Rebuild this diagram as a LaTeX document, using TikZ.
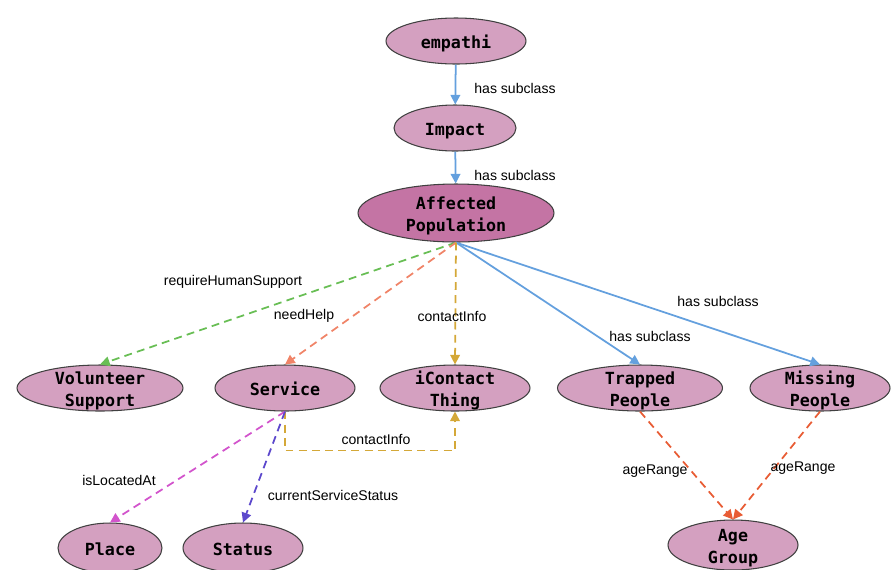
\documentclass[tikz,border=0pt]{standalone}
\usepackage{fontspec}
\setmainfont{Liberation Sans}
\newfontfamily\classfont{DejaVu Sans Mono}
\usetikzlibrary{shapes.geometric,arrows.meta}

\definecolor{classfill}{RGB}{212,160,192}
\definecolor{mainfill}{RGB}{196,116,164}
\definecolor{subblue}{RGB}{100,160,222}
\definecolor{relgreen}{RGB}{104,190,84}
\definecolor{relsalmon}{RGB}{240,132,104}
\definecolor{relgold}{RGB}{212,168,56}
\definecolor{relmagenta}{RGB}{210,84,204}
\definecolor{relpurple}{RGB}{92,72,204}
\definecolor{relorange}{RGB}{232,92,52}

\newcommand{\cls}[1]{\smash{\raisebox{-3.8pt}{\begin{tabular}{@{}c@{}}#1\end{tabular}}}}

\tikzstyle{class}=[shape=ellipse,draw=black!75,line width=0.6pt,fill=classfill,inner sep=0pt,
    minimum width=2.8cm,minimum height=0.92cm,font=\classfont\bfseries\fontsize{9.5}{12.5}\selectfont]
\tikzstyle{mainclass}=[class,fill=mainfill,minimum width=3.92cm,minimum height=1.16cm]
\tikzstyle{sub}=[draw=subblue,line width=1pt,-{Triangle[length=5.5pt,width=5.5pt]}]
\tikzstyle{rel}=[line width=1pt,dash pattern=on 4.5pt off 3pt,-{Triangle[length=5.5pt,width=5.5pt]}]
\tikzstyle{lbl}=[font=\fontsize{8}{9}\selectfont,inner sep=1pt]

\begin{document}
\begin{tikzpicture}[x=0.02cm,y=-0.02cm]
        \useasboundingbox (0,0) rectangle (891,569);
        % classes
        \node[class] (emp) at (456,41) {\cls{empathi}};
        \node[class,minimum width=2.44cm] (imp) at (455,128) {\cls{Impact}};
        \node[mainclass] (ap) at (456,213) {\cls{Affected\\Population}};
        \node[class,minimum width=3.32cm] (vs) at (100,388) {\cls{Volunteer\\Support}};
        \node[class] (sv) at (285,388) {\cls{Service}};
        \node[class,minimum width=3cm] (ic) at (455,388) {\cls{iContact\\Thing}};
        \node[class,minimum width=3.3cm] (tp) at (640,388) {\cls{Trapped\\People}};
        \node[class] (mp) at (820,388) {\cls{Missing\\People}};
        \node[class,minimum width=2.08cm,minimum height=1cm] (pl) at (110,548) {\cls{Place}};
        \node[class,minimum width=2.4cm,minimum height=1cm] (st) at (243,548) {\cls{Status}};
        \node[class,minimum width=2.6cm,minimum height=1cm] (ag) at (733,545) {\cls{Age\\Group}};

        % subclass links
        \draw[sub] (emp) -- (imp) node[lbl] (l1) at (515,88) {has subclass};
        \draw[sub] (imp) -- (ap) node[lbl] (l2) at (515,175) {has subclass};
        \draw[sub] (ap.south) -- (tp.north) node[lbl] (l3) at (650,336) {has subclass};
        \draw[sub] (ap.south) -- (mp.north) node[lbl] (l4) at (718,301) {has subclass};

        % properties
        \draw[rel,draw=relgreen] (ap.south) -- (vs.north)
            node[lbl] (l5) at (233,282) {requireHumanSupport};
        \draw[rel,draw=relsalmon] (ap.south) -- (sv.north)
            node[lbl] (l6) at (304,316) {needHelp};
        \draw[rel,draw=relgold] (ap.south) -- (ic.north)
            node[lbl] (l7) at (452,316) {contactInfo};
        \draw[rel,draw=relgold] (sv.south) -- ++(0,39) -| (ic.south)
            node[lbl] (l8) at (376,439) {contactInfo};
        \draw[rel,draw=relmagenta] (sv.south) -- (pl.north)
            node[lbl] (l9) at (119,480) {isLocatedAt};
        \draw[rel,draw=relpurple] (sv.south) -- (st.north)
            node[lbl] (l10) at (333,495) {currentServiceStatus};
        \draw[rel,draw=relorange] (tp.south) -- (ag.north)
            node[lbl] (l11) at (655,471) {ageRange};
        \draw[rel,draw=relorange] (mp.south) -- (ag.north)
            node[lbl] (l12) at (803,468) {ageRange};
    \end{tikzpicture}
\end{document}
